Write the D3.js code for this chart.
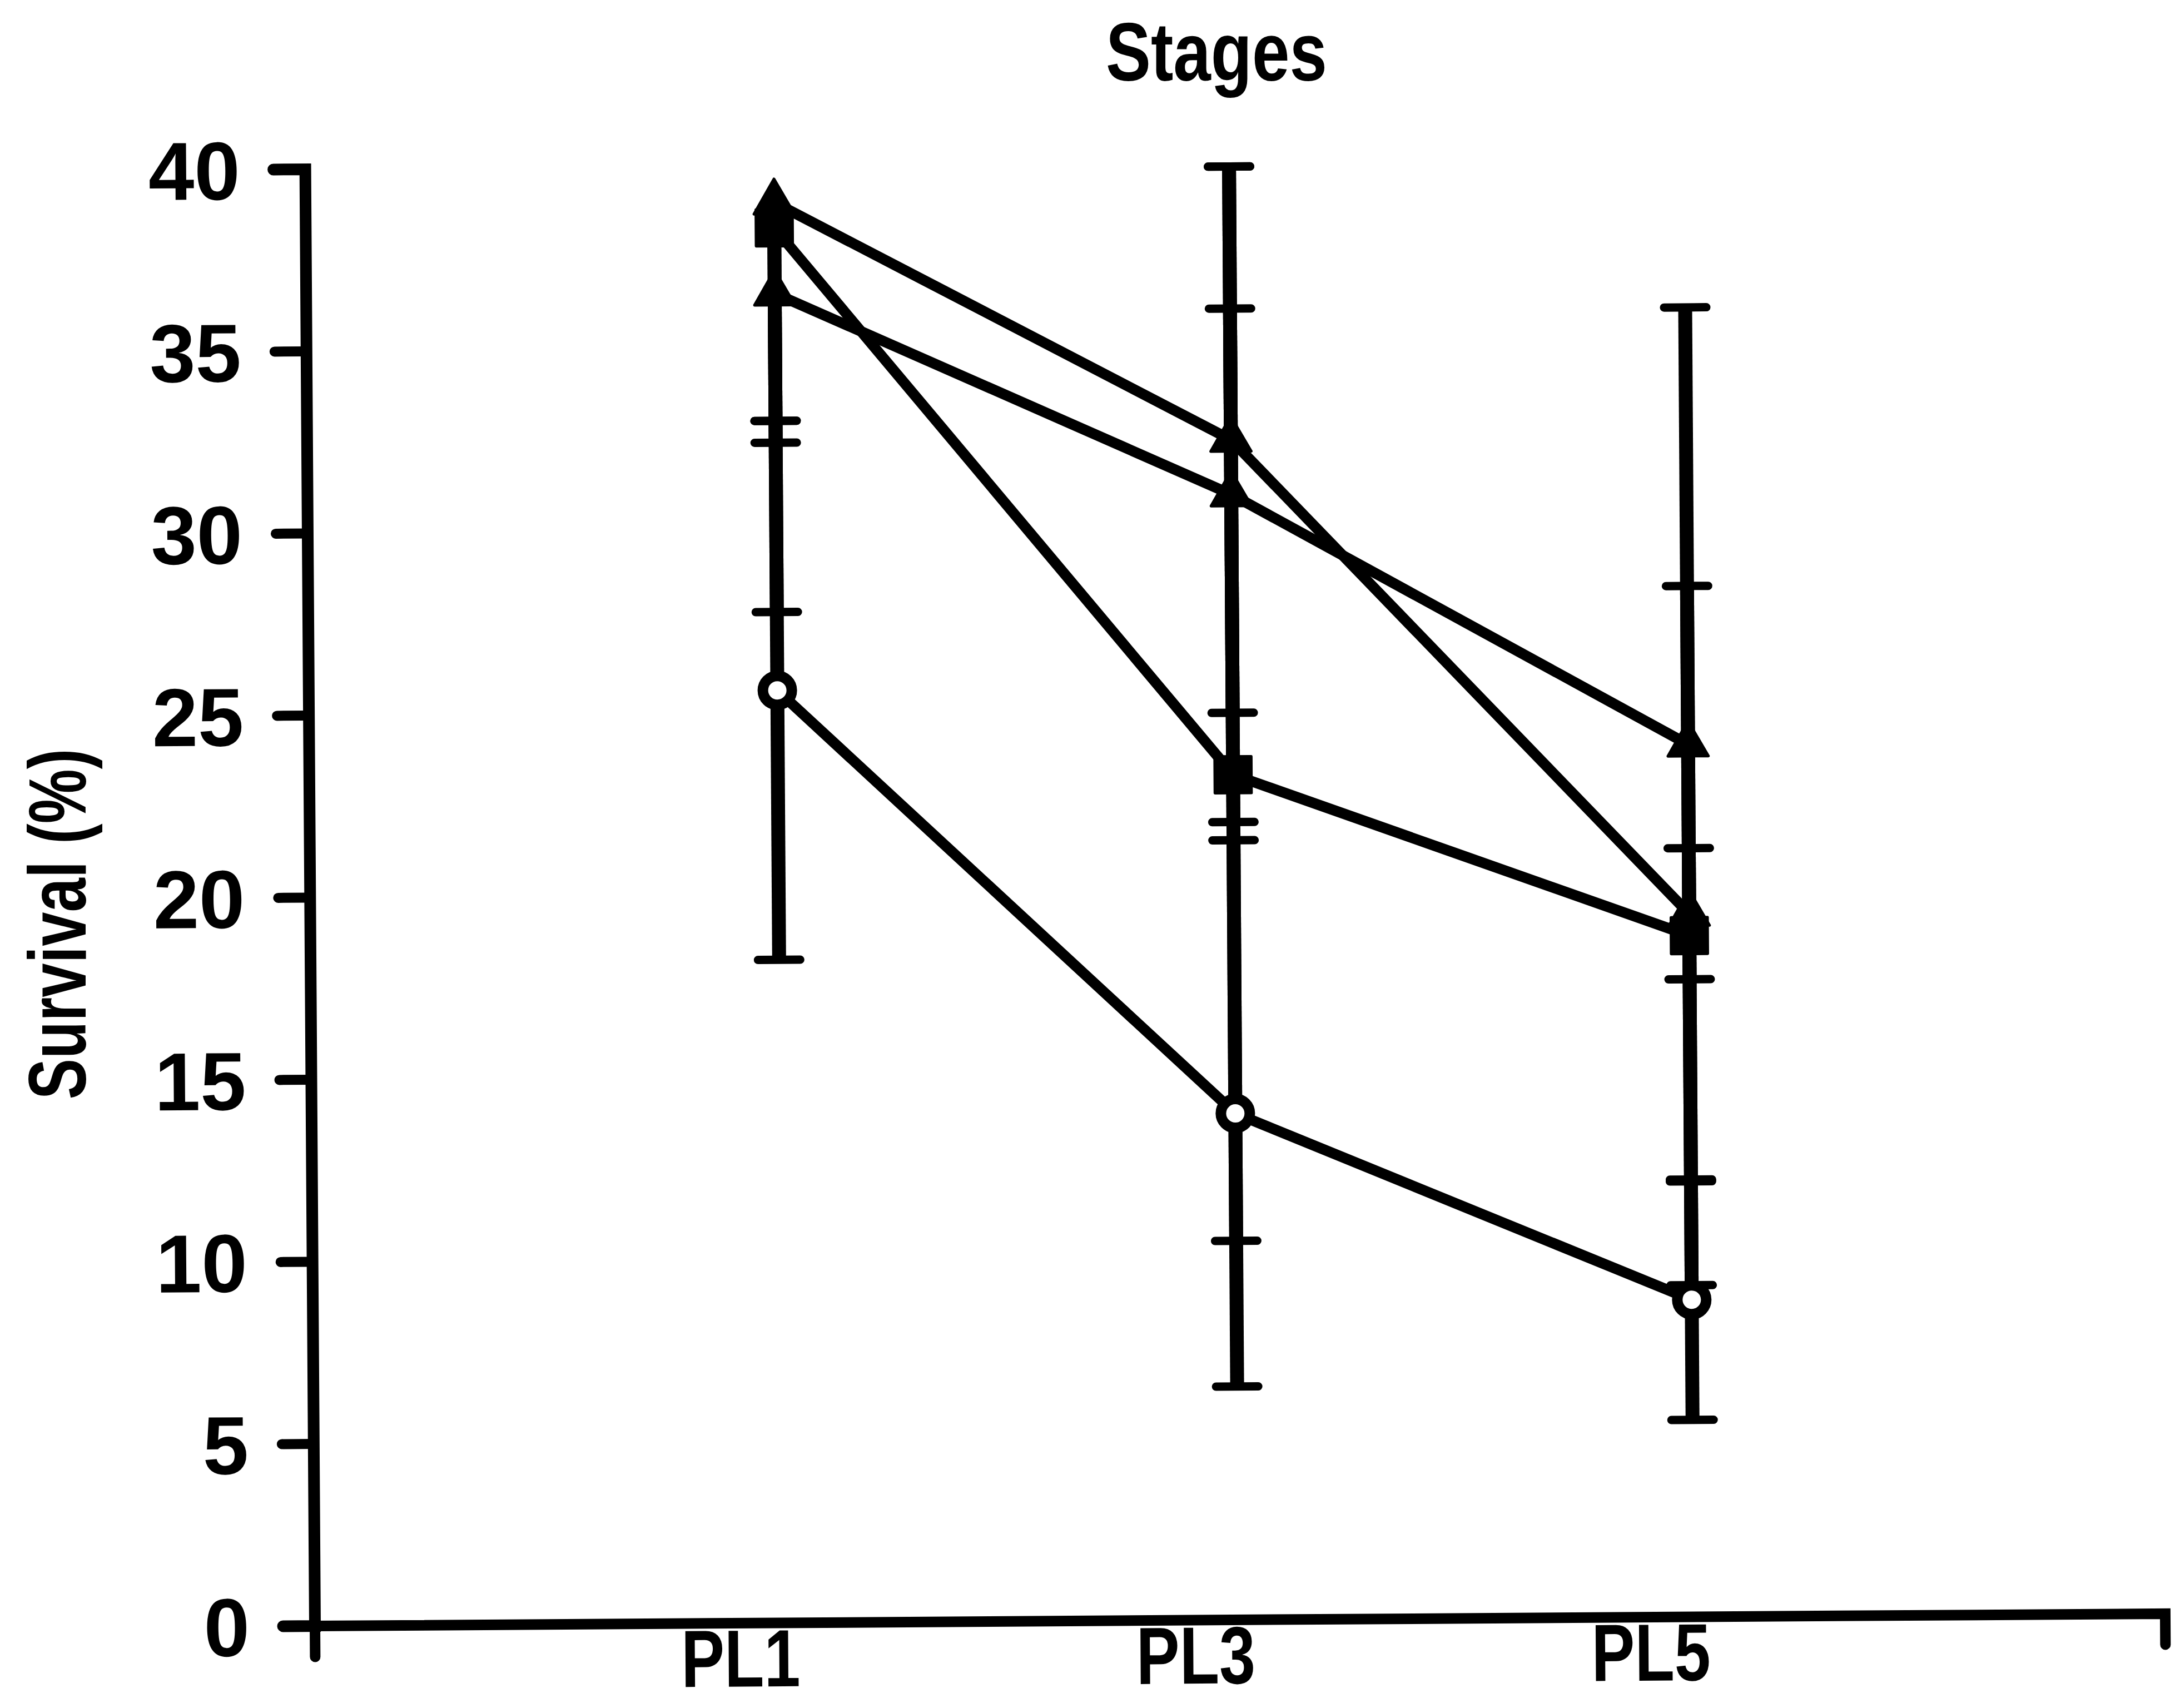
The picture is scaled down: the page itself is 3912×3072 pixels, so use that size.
<!DOCTYPE html>
<html>
<head>
<meta charset="utf-8">
<script src="https://cdn.jsdelivr.net/npm/d3@7"></script>
<style>
  html, body { margin: 0; padding: 0; background: #fff; }
  svg { display: block; }
</style>
</head>
<body>
<svg id="chart"></svg>
<script>
// ---- data -------------------------------------------------------------
const stages   = ["PL1", "PL3", "PL5"];
const stageNum = [1, 3, 5];
const yTicks   = [0, 5, 10, 15, 20, 25, 30, 35, 40];

// survival (%) means and standard deviations per stage
const openCircleMean   = [25.6, 13.9, 8.7];
const openCircleSD     = [7.4, 7.5, 3.3];
const squareMean       = [38.3, 23.2, 18.7];
const squareSD         = [5.9, 12.8, 9.6];
const triangleAMean    = [39.0, 32.4, 19.3];
const triangleASD      = [6.0, 7.5, 1.8];
const triangleBMean    = [36.5, 30.9, 23.95];
const triangleBSD      = [8.75, 9.0, 12.0];

const series = [
  { mean: openCircleMean, sd: openCircleSD, symbol: "circle" },
  { mean: squareMean,     sd: squareSD,     symbol: "square" },
  { mean: triangleAMean,  sd: triangleASD,  symbol: "triangle" },
  { mean: triangleBMean,  sd: triangleBSD,  symbol: "triangle" }
];

// ---- layout -----------------------------------------------------------
const W = 3912, H = 3072;
const FONT = "'Liberation Sans', Arial, Helvetica, sans-serif";

const svg = d3.select("#chart")
  .attr("width", W).attr("height", H)
  .attr("viewBox", `0 0 ${W} ${H}`);

svg.append("rect").attr("width", W).attr("height", H).attr("fill", "#fff");

const y = d3.scaleLinear().domain([0, 40]).range([2924, 304]);
const x = d3.scaleLinear().domain([-1.06, 7.07]).range([566, 3894]);

// the whole plotting frame sits very slightly tilted
const plot = svg.append("g")
  .attr("transform", `rotate(-0.38, ${x.range()[0]}, ${y(0)})`);

// ---- axes -------------------------------------------------------------
const yAxis = plot.append("g")
  .attr("transform", `translate(${x.range()[0]},0)`)
  .call(d3.axisLeft(y)
    .tickValues(yTicks)
    .tickFormat(d3.format("d"))
    .tickSize(57)
    .tickSizeOuter(57)
    .tickPadding(60));

yAxis.select(".domain")
  .attr("stroke", "#000").attr("stroke-width", 21)
  .attr("stroke-linecap", "round").attr("stroke-linejoin", "miter");
yAxis.selectAll(".tick line")
  .attr("stroke", "#000").attr("stroke-width", 18)
  .attr("stroke-linecap", "round");
yAxis.selectAll(".tick text")
  .attr("fill", "#000")
  .attr("dy", "0.36em")
  .style("font-family", FONT)
  .style("font-weight", "bold")
  .style("font-size", "148px");

const xAxis = plot.append("g")
  .attr("transform", `translate(0,${y(0)})`)
  .call(d3.axisBottom(x)
    .tickValues(stageNum)
    .tickFormat((d, i) => stages[i])
    .tickSizeInner(0)
    .tickSizeOuter(56)
    .tickPadding(11));

xAxis.select(".domain")
  .attr("stroke", "#000").attr("stroke-width", 19)
  .attr("stroke-linecap", "round").attr("stroke-linejoin", "miter");
xAxis.selectAll(".tick line").remove();
xAxis.selectAll(".tick text")
  .attr("fill", "#000")
  .attr("transform", "translate(-78,0) scale(0.8,1)")
  .style("font-family", FONT)
  .style("font-weight", "bold")
  .style("font-size", "146px");

// ---- error bars -------------------------------------------------------
const capHalf = 38;
const bars = plot.append("g").attr("stroke", "#000").attr("fill", "none");

series.forEach(s => {
  s.mean.forEach((m, i) => {
    const cx = x(stageNum[i]);
    const lo = m - s.sd[i];
    const hi = m + s.sd[i];
    const [d0, d1] = y.domain();
    // lower half
    if (lo >= d0) {
      bars.append("line")
        .attr("x1", cx).attr("x2", cx)
        .attr("y1", y(m)).attr("y2", y(lo))
        .attr("stroke-width", 25);
      bars.append("line")
        .attr("x1", cx - capHalf).attr("x2", cx + capHalf)
        .attr("y1", y(lo)).attr("y2", y(lo))
        .attr("stroke-width", 15).attr("stroke-linecap", "round");
    }
    // upper half (skipped when it runs past the axis top)
    if (hi <= d1 + 0.01) {
      bars.append("line")
        .attr("x1", cx).attr("x2", cx)
        .attr("y1", y(m)).attr("y2", y(hi))
        .attr("stroke-width", 25);
      bars.append("line")
        .attr("x1", cx - capHalf).attr("x2", cx + capHalf)
        .attr("y1", y(hi)).attr("y2", y(hi))
        .attr("stroke-width", 15).attr("stroke-linecap", "round");
    }
  });
});

// ---- series lines -----------------------------------------------------
const line = d3.line()
  .x((d, i) => x(stageNum[i]))
  .y(d => y(d));

plot.append("g").selectAll("path")
  .data(series)
  .join("path")
  .attr("d", s => line(s.mean))
  .attr("fill", "none")
  .attr("stroke", "#000")
  .attr("stroke-width", 19)
  .attr("stroke-linejoin", "round");

// ---- markers ----------------------------------------------------------
const markers = plot.append("g");
series.forEach(s => {
  const g = markers.append("g");
  s.mean.forEach((m, i) => {
    const cx = x(stageNum[i]), cy = y(m);
    if (s.symbol === "circle") {
      g.append("circle")
        .attr("cx", cx).attr("cy", cy).attr("r", 26)
        .attr("fill", "#fff").attr("stroke", "#000").attr("stroke-width", 19);
    } else {
      const type = s.symbol === "square" ? d3.symbolSquare : d3.symbolTriangle;
      const size = s.symbol === "square" ? 4300 : 2300;
      g.append("path")
        .attr("transform", `translate(${cx},${cy})`)
        .attr("d", d3.symbol(type, size)())
        .attr("fill", "#000").attr("stroke", "#000").attr("stroke-width", 5)
        .attr("stroke-linejoin", "round");
    }
  });
});

// ---- titles -----------------------------------------------------------
svg.append("text")
  .attr("x", 2188).attr("y", 145)
  .attr("text-anchor", "middle")
  .attr("textLength", 398).attr("lengthAdjust", "spacingAndGlyphs")
  .style("font-family", FONT).style("font-weight", "bold").style("font-size", "148px")
  .attr("fill", "#000")
  .text("Stages");

svg.append("text")
  .attr("transform", "translate(154,1662) rotate(-90)")
  .attr("text-anchor", "middle")
  .attr("textLength", 631).attr("lengthAdjust", "spacingAndGlyphs")
  .style("font-family", FONT).style("font-weight", "bold").style("font-size", "146px")
  .attr("fill", "#000")
  .text("Survival (%)");
</script>
</body>
</html>
